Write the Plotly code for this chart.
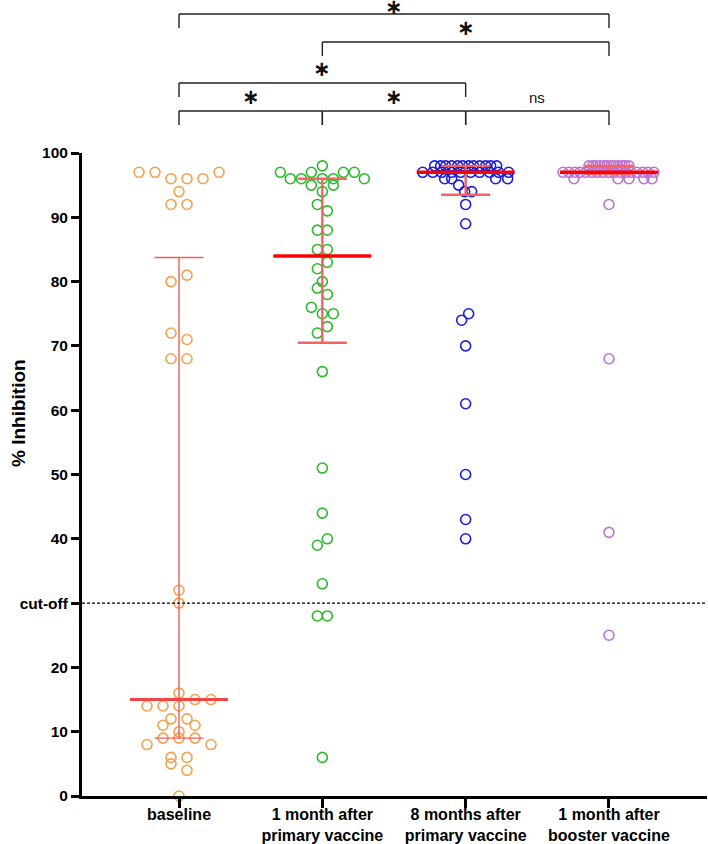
import math
import plotly.graph_objects as go

# ---------------- data ----------------
categories = ["baseline", "1 month after<br>primary vaccine",
              "8 months after<br>primary vaccine", "1 month after<br>booster vaccine"]

baseline_values = [97, 97, 96, 96, 96, 97, 94, 92, 92, 81, 80, 72, 71, 68, 68, 32, 30,
                   16, 15, 15, 14, 14, 14, 12, 12, 11, 11, 10, 9, 9, 9, 8, 8, 6, 6, 5, 4, 0]
month1_values = [97, 96, 96, 97, 98, 96, 96, 97, 97, 96, 95, 95, 94, 92, 91, 88, 88, 85, 85,
                 83, 82, 80, 79, 78, 76, 75, 75, 73, 72, 66, 51, 44, 40, 39, 33, 28, 28, 6]
month8_values = [98, 98, 98, 98, 98, 98, 98, 98, 98, 98, 98, 98,
                 97, 97, 97, 97, 97, 97, 97, 97, 97, 97,
                 96, 96, 96, 96, 95, 94, 94, 92, 89, 75, 74, 70, 61, 50, 43, 40]
booster_values = [98, 98, 98, 98, 98, 98, 98, 98, 98, 98, 98, 98,
                  97, 97, 97, 97, 97, 97, 97, 97, 97, 97, 97, 97, 97, 97, 97, 97, 97,
                  96, 96, 96, 96, 96, 92, 68, 41, 25]

# horizontal swarm offsets of each point (pixels)
baseline_swarm = [-40, -24, -8, 8, 24, 40, 0, -8, 8, 8, -8, -8, 8, -8, 8, 0, 0,
                  0, 16, 32, -32, -16, 0, -8, 8, -16, 16, 0, -16, 0, 16, -32, 32, -8, 8, -8, 8, 0]
month1_swarm = [-42, -32, -21, -11, 0, 0, 11, 21, 32, 42, -11, 11, 0, -5, 5, -5, 5, -5, 5,
                5, -5, 0, -5, 5, -11, 0, 11, 5, -5, 0, 0, 0, 5, -5, 0, -5, 5, 0]
month8_swarm = [-31, -25, -20, -14, -8, -3, 3, 8, 14, 20, 25, 31,
                -43, -33, -24, -14, -5, 5, 14, 24, 33, 43,
                -21, -14, 30, 42, -7, -1, 6, 0, 0, 3, -4, 0, 0, 0, 0, 0]
booster_swarm = [-20, -16, -13, -9, -5, -2, 2, 5, 9, 13, 16, 20,
                 -46, -40, -34, -29, -23, -17, -12, -6, 0, 5, 11, 17, 22, 28, 34, 39, 45,
                 -35, 9, 20, 35, 43, 0, 0, 0, 0]

y_tick_values = [0, 10, 20, 30, 40, 50, 60, 70, 80, 90, 100]
y_tick_labels = ["0", "10", "20", "cut-off", "40", "50", "60", "70", "80", "90", "100"]
cutoff_value = 30

# statistical comparisons: (group a, group b, label, bracket level)
comp_a = [0, 1, 2, 0, 1, 0]
comp_b = [1, 2, 3, 2, 3, 3]
comp_label = ["*", "*", "ns", "*", "*", "*"]
comp_level = [0, 0, 0, 1, 2, 3]

# ---------------- styling ----------------
W, H = 708, 844
ML, MR, MT, MB = 82, 1, 153, 48
PW, PH = W - ML - MR, H - MT - MB
XMIN, XMAX = -0.677, 3.684
PX_PER_CAT = PW / (XMAX - XMIN)

marker_colors = ["#F5A14E", "#2BBA2B", "#1C1CDB", "#BF70D8"]
median_colors = ["#EE4545", "#FF0000", "#FF0000", "#FF0000"]
whisker_colors = ["#EF5C5C", "#F26464", "#F26464", "#F26464"]
median_widths = [3, 3.5, 3.5, 3.5]
whisker_widths = [1.4, 2.4, 2.4, 2.4]
MED_HALF = 49 / PX_PER_CAT
CAP_HALF = 24.5 / PX_PER_CAT
FONT = "Liberation Sans, Arial, sans-serif"

groups = [(baseline_values, baseline_swarm), (month1_values, month1_swarm),
          (month8_values, month8_swarm), (booster_values, booster_swarm)]


def quantile(vals, p):
    s = sorted(vals)
    n = len(s)
    pos = p * (n + 1)
    lo = int(math.floor(pos))
    frac = pos - lo
    lo = max(1, min(lo, n))
    hi = min(lo + 1, n)
    return s[lo - 1] + frac * (s[hi - 1] - s[lo - 1])


fig = go.Figure()

for i, (vals, swarm) in enumerate(groups):
    xs = [i + d / PX_PER_CAT for d in swarm]
    fig.add_trace(go.Scatter(
        x=xs, y=vals, mode="markers", cliponaxis=False, showlegend=False,
        hoverinfo="skip",
        marker=dict(symbol="circle-open", size=10, color=marker_colors[i],
                    line=dict(width=1.6, color=marker_colors[i]))))

for i, (vals, swarm) in enumerate(groups):
    med = quantile(vals, 0.5)
    q1 = quantile(vals, 0.25)
    q3 = quantile(vals, 0.75)
    wl = dict(color=whisker_colors[i], width=whisker_widths[i])
    fig.add_trace(go.Scatter(x=[i, i], y=[q1, q3], mode="lines", line=wl,
                             showlegend=False, cliponaxis=False, hoverinfo="skip"))
    for q in (q1, q3):
        fig.add_trace(go.Scatter(x=[i - CAP_HALF, i + CAP_HALF], y=[q, q], mode="lines",
                                 line=wl, showlegend=False, cliponaxis=False,
                                 hoverinfo="skip"))
    fig.add_trace(go.Scatter(x=[i - MED_HALF, i + MED_HALF], y=[med, med], mode="lines",
                             line=dict(color=median_colors[i], width=median_widths[i]),
                             showlegend=False, cliponaxis=False, hoverinfo="skip"))

shapes = []
annotations = []
# cut-off line
shapes.append(dict(type="line", xref="paper", yref="y", x0=0, x1=1,
                   y0=cutoff_value, y1=cutoff_value,
                   line=dict(color="black", width=1.2, dash="3px,2px")))


def xpaper(xc):
    return (xc - XMIN) / (XMAX - XMIN)


def ypaper(py):
    return (H - MB - py) / PH


level_px = [111, 83, 42, 14]
star_gap = [14, 14, 14, 7]
DROP = 14
for a, b, lab, lev in zip(comp_a, comp_b, comp_label, comp_level):
    yl = level_px[lev]
    xa, xb = xpaper(a), xpaper(b)
    lc = dict(color="#222222", width=1.4)
    shapes.append(dict(type="line", xref="paper", yref="paper", x0=xa, x1=xb,
                       y0=ypaper(yl), y1=ypaper(yl), line=lc))
    for xx in (xa, xb):
        shapes.append(dict(type="line", xref="paper", yref="paper", x0=xx, x1=xx,
                           y0=ypaper(yl), y1=ypaper(yl + DROP), line=lc))
    if lab == "ns":
        annotations.append(dict(x=(a + b) / 2, xref="x", y=ypaper(yl - 14), yref="paper",
                                text="ns", showarrow=False, yanchor="middle",
                                font=dict(family=FONT, size=15, color="#111")))
    else:
        annotations.append(dict(x=(a + b) / 2, xref="x", y=ypaper(yl - star_gap[lev]),
                                yref="paper", text="∗", showarrow=False, yanchor="middle",
                                font=dict(family="DejaVu Sans", size=21, color="#111",
                                          weight="bold")))

annotations.append(dict(x=(18 - ML) / PW, xref="paper", y=ypaper(413), yref="paper",
                        text="% Inhibition", textangle=-90, showarrow=False,
                        xanchor="center", yanchor="middle",
                        font=dict(family=FONT, size=19, color="black", weight="bold")))

fig.update_layout(
    width=W, height=H, margin=dict(l=ML, r=MR, t=MT, b=MB, autoexpand=False),
    plot_bgcolor="white", paper_bgcolor="white",
    shapes=shapes, annotations=annotations, showlegend=False,
    xaxis=dict(range=[XMIN, XMAX], tickvals=[0, 1, 2, 3], ticktext=categories,
               showline=True, linecolor="black", linewidth=3, ticks="outside",
               ticklen=9, tickwidth=3, tickcolor="black", showgrid=False, zeroline=False,
               ticklabelstandoff=-7,
               tickfont=dict(family=FONT, size=16, color="black", weight="bold"),
               automargin=False),
    yaxis=dict(range=[0, 100], tickvals=y_tick_values, ticktext=y_tick_labels,
               showline=True, linecolor="black", linewidth=3, ticks="outside",
               ticklen=8, tickwidth=2.5, tickcolor="black", showgrid=False, zeroline=False,
               tickfont=dict(family=FONT, size=15.5, color="black", weight="bold"),
               automargin=False),
)

fig.write_html("out.html", config={"displayModeBar": False},
               post_script="document.body.style.margin='0px';")
